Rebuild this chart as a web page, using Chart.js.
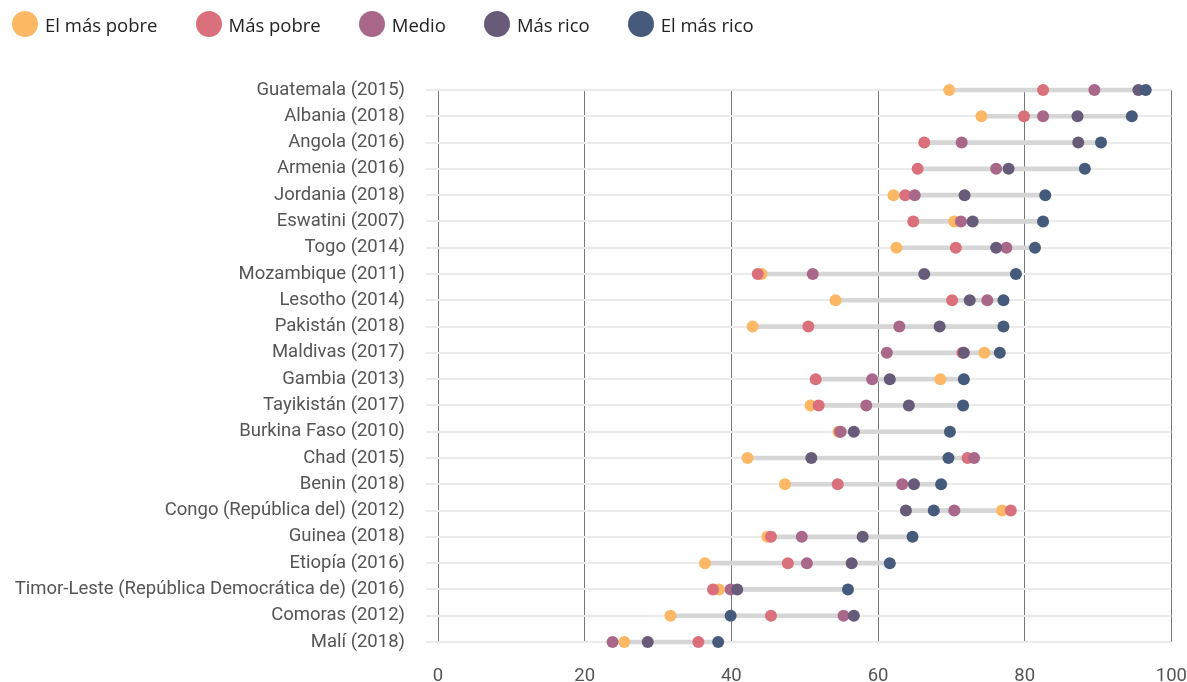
<!DOCTYPE html>
<html>
<head>
<meta charset="utf-8">
<script src="https://cdn.jsdelivr.net/npm/chart.js@4.4.1/dist/chart.umd.min.js"></script>
<style>
  body { margin: 0; background: #fff; }
  #wrap { position: relative; width: 1187px; height: 682px; }
  #legend { position: absolute; left: 12px; top: 11px; display: flex; font-family: "Open Sans", sans-serif; font-size: 18.5px; color: #222; }
  #legend .item { display: flex; align-items: center; margin-right: 38px; }
  #legend .dot { width: 26px; height: 26px; border-radius: 50%; margin-right: 7px; }
</style>
</head>
<body>
<div id="wrap">
  <div id="legend"></div>
  <canvas id="chart" width="1187" height="682"></canvas>
</div>
<script>
// paises / filas
var categorias = ['Guatemala (2015)', 'Albania (2018)', 'Angola (2016)', 'Armenia (2016)', 'Jordania (2018)',
  'Eswatini (2007)', 'Togo (2014)', 'Mozambique (2011)', 'Lesotho (2014)', 'Pakistán (2018)',
  'Maldivas (2017)', 'Gambia (2013)', 'Tayikistán (2017)', 'Burkina Faso (2010)', 'Chad (2015)',
  'Benin (2018)', 'Congo (República del) (2012)', 'Guinea (2018)', 'Etiopía (2016)',
  'Timor-Leste (República Democrática de) (2016)', 'Comoras (2012)', 'Malí (2018)'];

// series por quintil
var elMasPobre = [69.7, 74.1, null, null, 62.1, 70.4, 62.5, 44.1, 54.2, 42.9, 74.5, 68.5, 50.8, 54.6, 42.2, 47.3, 76.9, 44.9, 36.4, 38.3, 31.7, 25.4];
var masPobre   = [82.5, 79.9, 66.3, 65.4, 63.7, 64.8, 70.6, 43.6, 70.1, 50.5, 71.5, 51.5, 51.9, 54.8, 72.2, 54.5, 78.1, 45.4, 47.7, 37.5, 45.4, 35.5];
var medio      = [89.5, 82.5, 71.4, 76.1, 65.0, 71.3, 77.5, 51.1, 74.9, 62.9, 61.2, 59.2, 58.4, 54.9, 73.1, 63.3, 70.4, 49.6, 50.3, 39.9, 55.3, 23.8];
var masRico    = [95.5, 87.2, 87.3, 77.8, 71.8, 72.9, 76.1, 66.3, 72.5, 68.4, 71.7, 61.6, 64.2, 56.7, 50.9, 64.9, 63.8, 57.9, 56.4, 40.8, 56.7, 28.6];
var elMasRico  = [96.5, 94.6, 90.4, 88.2, 82.8, 82.5, 81.4, 78.8, 77.1, 77.1, 76.6, 71.7, 71.6, 69.8, 69.6, 68.6, 67.6, 64.7, 61.6, 55.9, 39.9, 38.2];

var nombres = ['El más pobre', 'Más pobre', 'Medio', 'Más rico', 'El más rico'];
var colores = ['#fdb866', '#da707c', '#a9688a', '#675b79', '#465a7c'];
var ticksX = [0, 20, 40, 60, 80, 100];

var series = [elMasPobre, masPobre, medio, masRico, elMasRico];

// rango min-max de cada fila (linea gris)
var rangos = categorias.map(function(c, i) {
  var vals = series.map(function(s) { return s[i]; }).filter(function(v) { return v !== null; });
  return [Math.min.apply(null, vals), Math.max.apply(null, vals)];
});

// leyenda
var leg = document.getElementById('legend');
nombres.forEach(function(n, i) {
  var it = document.createElement('div');
  it.className = 'item';
  it.innerHTML = '<span class="dot" style="background:' + colores[i] + '"></span><span>' + n + '</span>';
  leg.appendChild(it);
});

var datasets = [{
  type: 'bar',
  label: 'rango',
  data: rangos,
  backgroundColor: '#d6d6d6',
  borderWidth: 0,
  barThickness: 4,
  order: 10,
  clip: false
}];
series.forEach(function(s, i) {
  datasets.push({
    type: 'line',
    label: nombres[i],
    data: s,
    indexAxis: 'y',
    showLine: false,
    pointRadius: 6,
    pointHoverRadius: 6,
    pointBorderWidth: 0,
    backgroundColor: colores[i],
    borderColor: colores[i],
    order: 5 - i,
    clip: false
  });
});

new Chart(document.getElementById('chart'), {
  type: 'bar',
  data: { labels: categorias, datasets: datasets },
  options: {
    indexAxis: 'y',
    responsive: false,
    animation: false,
    layout: { padding: { top: 90, right: 0, left: 0, bottom: 0 } },
    plugins: { legend: { display: false }, tooltip: { enabled: false } },
    scales: {
      x: {
        type: 'linear',
        min: 0,
        max: 100,
        afterBuildTicks: function(s) { s.ticks = ticksX.map(function(v) { return { value: v }; }); },
        afterFit: function(s) { s.height = 40; },
        grid: { color: '#777', lineWidth: 1, drawTicks: true, tickLength: 23, tickColor: 'rgba(0,0,0,0)' },
        border: { display: false },
        ticks: { color: '#555', padding: 0, font: { family: 'Roboto', size: 18.5 } }
      },
      y: {
        type: 'category',
        offset: false,
        afterFit: function(s) { s.width = 438; },
        grid: { color: '#ebebeb', lineWidth: 2, offset: false, tickLength: 12 },
        border: { display: false },
        ticks: { color: '#555', padding: 21, autoSkip: false, font: { family: 'Roboto', size: 18.5 } }
      }
    }
  }
});
</script>
</body>
</html>
